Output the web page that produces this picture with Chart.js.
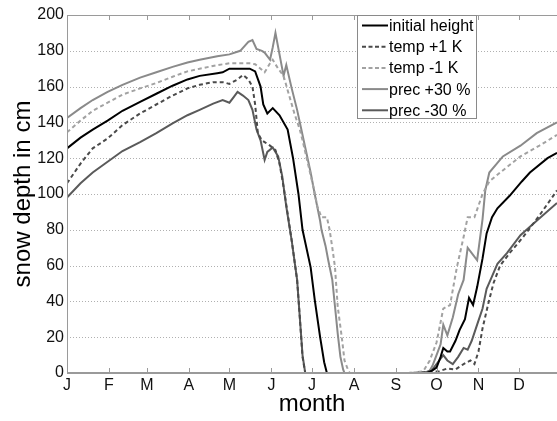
<!DOCTYPE html>
<html>
<head>
<meta charset="utf-8">
<script src="https://cdn.jsdelivr.net/npm/chart.js@4"></script>
<style>
  html, body { margin: 0; padding: 0; background: #fff; }
</style>
</head>
<body>
<canvas id="snowChart" width="557" height="421"></canvas>
<script>
// day of year (0 = 1 Jan) and snow depth in cm
var monthStarts = [0, 31, 59, 90, 120, 151, 181, 212, 243, 273, 304, 334];
var monthLabels = ['J', 'F', 'M', 'A', 'M', 'J', 'J', 'A', 'S', 'O', 'N', 'D'];

var initialDays = [0, 10, 19, 30, 41, 54, 66, 78, 89, 98, 111, 115, 120, 135, 139, 143, 145, 148, 152, 157,
  163, 167, 171, 174, 180, 183, 187, 190, 192, 266, 270, 273, 276, 278, 281, 283, 287, 290, 294, 297,
  300, 303, 307, 310, 314, 318, 327, 336, 342, 355, 362];
var initialDepth = [125.5, 131.5, 136, 141, 146.5, 151.5, 156, 160.5, 164, 166, 167.5, 168, 170, 170, 168.5, 160, 150, 145, 148, 144,
  136, 120, 100, 80, 59, 41, 20, 6, 0, 0, 1.5, 3, 9, 14, 12, 12, 18, 24, 30, 42,
  38, 48, 64, 78, 87, 92, 99, 107, 112, 120, 123];

var tempPlusDays = [0, 10, 19, 30, 41, 54, 66, 78, 89, 98, 108, 115, 120, 126, 130, 134, 137, 139, 141, 144,
  146, 150, 154, 157, 160, 163, 166, 170, 172, 174, 176, 252, 275, 281, 287, 293, 298, 301, 304, 307,
  311, 315, 320, 327, 337, 349, 362];
var tempPlusDepth = [106, 117, 125.5, 131, 138.5, 145, 150, 155, 159, 161, 162.5, 162.5, 161.5, 164, 166.5, 164, 160, 150, 134, 130,
  129, 127, 124.5, 117, 104, 89, 74, 52, 31, 9, 0, 0, 1, 2.5, 2, 5, 7, 5, 12, 25,
  38, 50, 60, 67, 76, 88, 102];

var tempMinusDays = [0, 10, 19, 30, 41, 54, 66, 78, 89, 98, 111, 120, 135, 139, 143, 146, 150, 152, 156, 160,
  163, 168, 172, 174, 178, 182, 185, 188, 192, 194, 196, 198, 200, 203, 205, 208, 209, 254, 263, 264,
  268, 273, 278, 283, 288, 293, 296, 301, 307, 312, 320, 335, 349, 362];
var tempMinusDepth = [134.5, 141, 146.5, 151, 155.5, 159, 162, 165.5, 168.5, 170, 172, 173, 173, 172.5, 170, 168, 173, 175, 170, 166,
  158, 145, 136, 130, 117, 104, 93, 87, 87, 80, 70, 59, 37, 20, 7, 1, 0, 0, 1, 2,
  7, 17, 36, 38, 59, 76, 87, 87, 100, 107, 112, 121, 127, 133];

var precPlusDays = [0, 10, 19, 30, 41, 54, 66, 78, 89, 98, 111, 120, 128, 134, 137, 140, 144, 146, 150, 152,
  154, 157, 160, 162, 166, 170, 172, 176, 180, 183, 187, 188, 191, 193, 196, 198, 200, 202, 204, 205,
  267, 270, 273, 276, 278, 281, 285, 289, 293, 296, 300, 303, 307, 309, 312, 322, 335, 347, 362];
var precPlusDepth = [142.5, 148, 152.5, 157, 161, 165, 168, 171, 173.5, 175, 177, 178, 180, 185, 186, 181, 180, 179, 175, 182,
  190, 178, 166, 172, 159, 147, 140, 126, 112, 100, 85, 80, 71, 63, 52, 37, 22, 9, 2, 0,
  0, 4, 10, 16, 27, 21, 31, 44, 52, 70, 66, 63, 86, 102, 112, 121, 127, 134, 140];

var precMinusDays = [0, 10, 19, 30, 41, 54, 66, 78, 89, 98, 108, 115, 120, 123, 126, 130, 134, 137, 140, 143,
  146, 148, 152, 156, 159, 162, 166, 170, 172, 174, 176, 264, 270, 274, 278, 281, 285, 289, 293, 296,
  299, 303, 307, 310, 314, 318, 325, 335, 347, 362];
var precMinusDepth = [98, 106, 112, 118, 124, 129, 134, 139.5, 144, 147, 150.5, 152.5, 151, 154, 157, 155, 152.5, 147, 136, 130,
  119, 123.5, 126, 121, 110, 93, 74, 52, 31, 10, 0, 0, 2, 6, 10, 7, 5, 9, 14, 13,
  18, 27, 36, 47, 54, 61, 67, 77, 85, 95];

function pts(days, vals) {
  return days.map(function (d, i) { return { x: d, y: vals[i] }; });
}

function series(label, days, vals, color, dash) {
  return {
    label: label,
    data: pts(days, vals),
    borderColor: color,
    backgroundColor: color,
    borderWidth: 2,
    borderDash: dash || [],
    pointRadius: 0,
    tension: 0,
    fill: false
  };
}

Chart.defaults.font.family = "'Liberation Sans', Arial, Helvetica, sans-serif";
Chart.defaults.color = '#111';

// dotted horizontal grid, axes box, inward month ticks and the boxed legend (MATLAB style)
var framePlugin = {
  id: 'frame',
  beforeDatasetsDraw: function (chart) {
    var c = chart.ctx, a = chart.chartArea, ys = chart.scales.y;
    c.save();
    c.strokeStyle = '#b0b0b0';
    c.lineWidth = 1;
    c.setLineDash([1, 2]);
    c.beginPath();
    ys.ticks.forEach(function (t) {
      if (t.value === 0 || t.value === 200) return;
      var py = Math.round(ys.getPixelForValue(t.value)) + 0.5;
      c.moveTo(a.left, py); c.lineTo(a.right, py);
    });
    c.stroke();
    c.restore();
  },
  afterDraw: function (chart) {
    var c = chart.ctx, a = chart.chartArea, xs = chart.scales.x;
    c.save();
    c.setLineDash([]);
    c.strokeStyle = '#9a9a9a';
    c.lineWidth = 1;
    c.beginPath();
    c.moveTo(a.left, a.top + 0.5); c.lineTo(a.right, a.top + 0.5);
    c.moveTo(a.left + 0.5, a.top); c.lineTo(a.left + 0.5, a.bottom);
    c.stroke();
    c.lineWidth = 2;
    c.beginPath();
    c.moveTo(a.left, a.bottom); c.lineTo(a.right, a.bottom);
    c.stroke();
    c.lineWidth = 1;
    c.beginPath();
    monthStarts.forEach(function (m, i) {
      if (i === 0) return;
      var px = Math.round(xs.getPixelForValue(m)) + 0.5;
      c.moveTo(px, a.top); c.lineTo(px, a.top + 5);
      c.moveTo(px, a.bottom); c.lineTo(px, a.bottom - 5);
    });
    c.stroke();

    // legend
    var lx = 357, ly = 15, lw = 119, lh = 103;
    c.fillStyle = '#fff';
    c.fillRect(lx, ly, lw, lh);
    c.strokeStyle = '#8a8a8a';
    c.strokeRect(lx + 0.5, ly + 0.5, lw, lh);
    c.font = "16px 'Liberation Sans', Arial, sans-serif";
    c.textBaseline = 'middle';
    c.fillStyle = '#000';
    chart.data.datasets.forEach(function (ds, i) {
      var y = ly + 10.5 + i * 21.2;
      c.strokeStyle = ds.borderColor;
      c.lineWidth = 2;
      c.setLineDash(ds.borderDash && ds.borderDash.length ? [4, 2.5] : []);
      c.beginPath();
      c.moveTo(lx + 5, y); c.lineTo(lx + 31, y);
      c.stroke();
      c.setLineDash([]);
      c.fillText(ds.label, lx + 32, y + 1);
    });
    c.restore();
  }
};

var ctx = document.getElementById('snowChart').getContext('2d');
var snowChart = new Chart(ctx, {
  type: 'line',
  data: {
    datasets: [
      series('initial height', initialDays, initialDepth, '#000000'),
      series('temp +1 K', tempPlusDays, tempPlusDepth, '#4a4a4a', [4, 3]),
      series('temp -1 K', tempMinusDays, tempMinusDepth, '#a2a2a2', [4, 3]),
      series('prec +30 %', precPlusDays, precPlusDepth, '#8a8a8a'),
      series('prec -30 %', precMinusDays, precMinusDepth, '#5a5a5a')
    ]
  },
  options: {
    responsive: false,
    animation: false,
    layout: { padding: { top: 15, right: 0, bottom: 0, left: 0 } },
    plugins: {
      legend: { display: false },
      tooltip: { enabled: false }
    },
    scales: {
      x: {
        type: 'linear',
        min: 0,
        max: 362,
        afterBuildTicks: function (scale) {
          scale.ticks = monthStarts.map(function (v) { return { value: v }; });
        },
        afterFit: function (scale) { scale.height = 48; },
        ticks: {
          autoSkip: false,
          maxRotation: 0,
          padding: 3,
          font: { size: 16 },
          callback: function (value, index) { return monthLabels[index]; }
        },
        grid: { display: false, drawTicks: false },
        border: { display: false },
        title: {
          display: true,
          text: 'month',
          font: { size: 24 },
          color: '#000',
          padding: { top: 0, bottom: 2 }
        }
      },
      y: {
        min: 0,
        max: 200,
        afterFit: function (scale) { scale.width = 67; },
        ticks: { stepSize: 20, padding: 3, font: { size: 16 } },
        grid: { display: false, drawTicks: false },
        border: { display: false },
        title: {
          display: true,
          text: 'snow depth in cm',
          font: { size: 24 },
          color: '#000',
          padding: { top: 9, bottom: 0 }
        }
      }
    }
  },
  plugins: [framePlugin]
});
</script>
</body>
</html>
